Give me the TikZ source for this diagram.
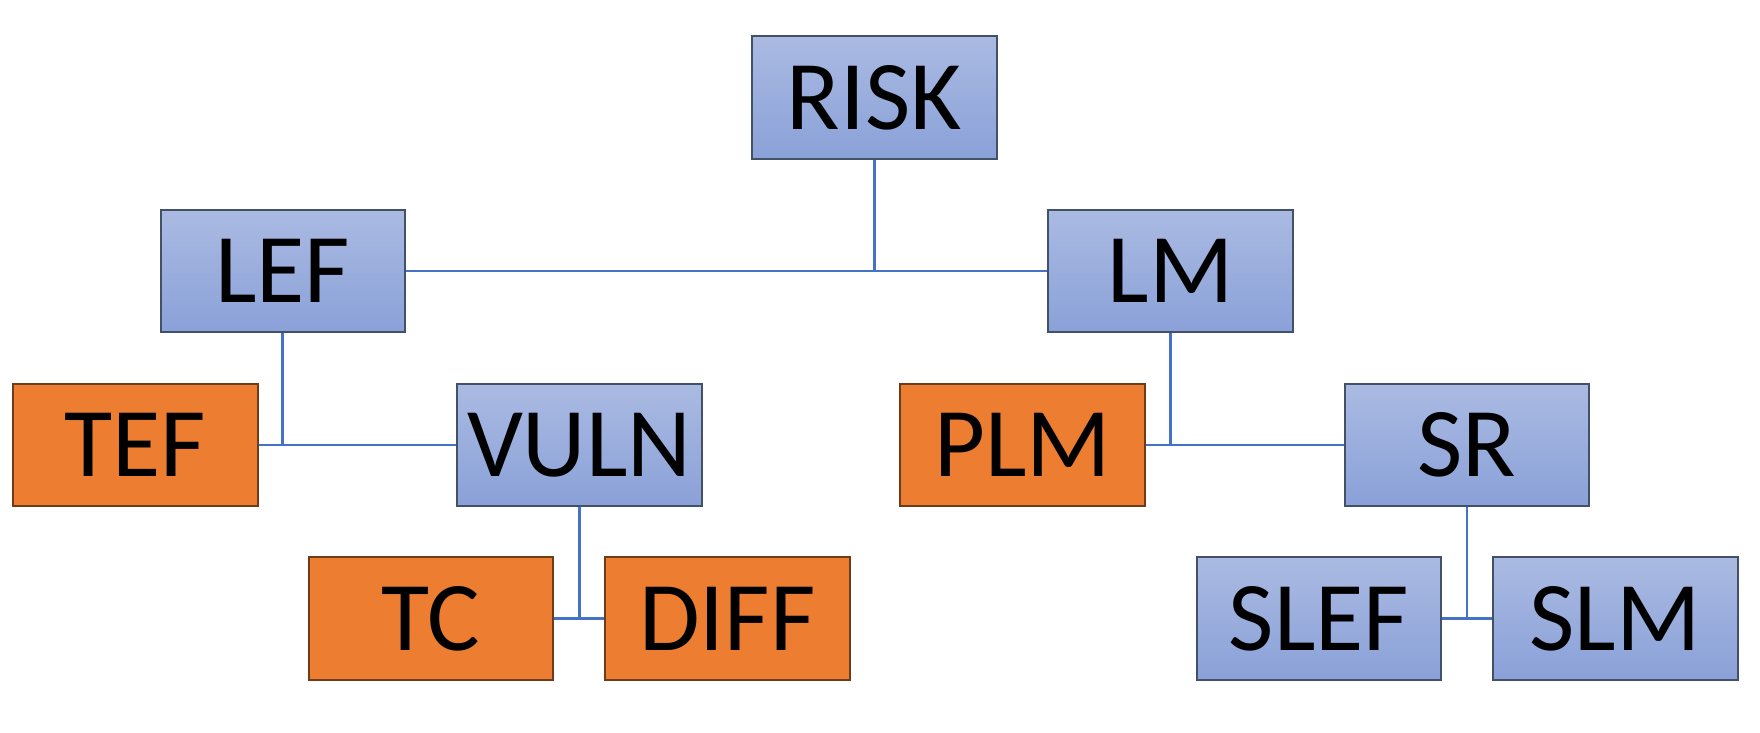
\documentclass[tikz,border=0pt]{standalone}
\usepackage{fontspec}
\setmainfont{Carlito}
\usetikzlibrary{positioning}

\definecolor{boxBlueTop}{RGB}{170,186,226}
\definecolor{boxBlueBottom}{RGB}{138,161,216}
\definecolor{boxBlueEdge}{RGB}{66,80,104}
\definecolor{boxOrange}{RGB}{237,125,49}
\definecolor{boxOrangeEdge}{RGB}{110,60,25}
\definecolor{linkBlue}{RGB}{68,114,196}

\begin{document}
\begin{tikzpicture}
  \tikzstyle{factorBox} = [rectangle, line width=0.5pt, minimum height=1.09cm, minimum width=2.18cm, inner sep=0pt, font={\fontsize{25}{30}\selectfont}];
  \tikzstyle{derived} = [factorBox, draw=boxBlueEdge, top color=boxBlueTop, bottom color=boxBlueBottom];
  \tikzstyle{measured} = [factorBox, draw=boxOrangeEdge, fill=boxOrange];
  \tikzstyle{link} = [linkBlue, line width=0.7pt];

  \useasboundingbox (0,0) rectangle (15.68,-6.53);

  \node[derived]  (risk) at (7.79,-0.87)   {RISK};
  \node[derived]  (lef)  at (2.52,-2.415)  {LEF};
  \node[derived]  (lm)   at (10.43,-2.415) {LM};
  \node[measured] (tef)  at (1.205,-3.965) {TEF};
  \node[derived]  (vuln) at (5.16,-3.965)  {VULN};
  \node[measured] (plm)  at (9.11,-3.965)  {PLM};
  \node[derived]  (sr)   at (13.07,-3.965) {SR};
  \node[measured] (tc)   at (3.84,-5.51)   {TC};
  \node[measured] (diff) at (6.48,-5.51)   {DIFF};
  \node[derived]  (slef) at (11.75,-5.51)  {SLEF};
  \node[derived]  (slm)  at (14.39,-5.51)  {SLM};

  \draw[link] (risk.south) -- (risk.south |- lef.east);
  \draw[link] (lef.east) -- (lm.west);
  \draw[link] (lef.south) -- (lef.south |- tef.east);
  \draw[link] (tef.east) -- (vuln.west);
  \draw[link] (lm.south) -- (lm.south |- plm.east);
  \draw[link] (plm.east) -- (sr.west);
  \draw[link] (vuln.south) -- (vuln.south |- tc.east);
  \draw[link] (tc.east) -- (diff.west);
  \draw[link] (sr.south) -- (sr.south |- slef.east);
  \draw[link] (slef.east) -- (slm.west);
\end{tikzpicture}
\end{document}
